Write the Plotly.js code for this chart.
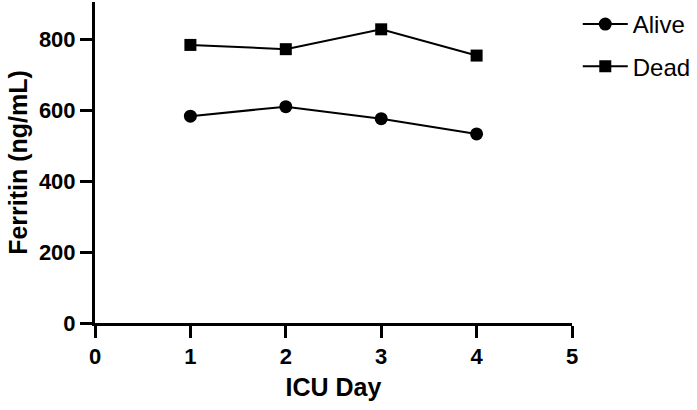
<!DOCTYPE html>
<html>
<head>
<meta charset="utf-8">
<script src="https://cdn.plot.ly/plotly-3.0.1.min.js"></script>
<style>
  body { margin: 0; background: #fff; }
  #graph1 { width: 697px; height: 410px; }
</style>
</head>
<body>
<div id="graph1"></div>
<script>
// ICU day on x, ferritin on y
var icuDays = [1, 2, 3, 4];
var aliveFerritin = [583, 610, 576, 533];
var deadFerritin = [784, 772, 828, 754];
var seriesNames = ['Alive', 'Dead'];
var xTicks = [0, 1, 2, 3, 4, 5];
var yTicks = [0, 200, 400, 600, 800];

function makeTrace(y, name, symbol) {
    return {
        x: icuDays,
        y: y,
        name: name,
        legendgroup: name,
        type: 'scatter',
        mode: 'lines+markers',
        line: { color: '#000', width: 2 },
        marker: { color: '#000', symbol: symbol, size: symbol === 'square' ? 12 : 13 },
        cliponaxis: false
    };
}

var traces = [
    makeTrace(aliveFerritin, seriesNames[0], 'circle'),
    makeTrace(deadFerritin, seriesNames[1], 'square')
];

var tickFont = { family: 'Liberation Sans, Arial, sans-serif', size: 22, color: '#000', weight: 'bold' };
var titleFont = { family: 'Liberation Sans, Arial, sans-serif', size: 25, color: '#000', weight: 'bold' };

Plotly.newPlot('graph1', traces, {
    width: 697,
    height: 410,
    paper_bgcolor: '#fff',
    plot_bgcolor: '#fff',
    showlegend: true,
    margin: { l: 95, r: 124, t: 2, b: 87, pad: 0 },
    xaxis: {
        range: [0, 5],
        tickvals: xTicks,
        ticktext: xTicks.map(String),
        showgrid: false,
        zeroline: false,
        showline: true,
        linecolor: '#000',
        linewidth: 3,
        ticks: 'outside',
        ticklen: 12,
        tickwidth: 3,
        tickcolor: '#000',
        tickfont: tickFont,
        title: { text: 'ICU Day', font: titleFont, standoff: 11 }
    },
    yaxis: {
        range: [0, 905],
        tickvals: yTicks,
        ticktext: yTicks.map(String),
        showgrid: false,
        zeroline: false,
        showline: true,
        linecolor: '#000',
        linewidth: 3,
        ticks: 'outside',
        ticklen: 12,
        tickwidth: 3,
        tickcolor: '#000',
        tickfont: tickFont,
        title: { text: 'Ferritin (ng/mL)', font: titleFont, standoff: 5 }
    },
    legend: {
        x: 1.01,
        xanchor: 'left',
        y: 1.0,
        yanchor: 'top',
        traceorder: 'grouped',
        tracegroupgap: 8,
        itemwidth: 45,
        font: { family: 'Liberation Sans, Arial, sans-serif', size: 24, color: '#000' },
        bgcolor: 'rgba(0,0,0,0)'
    }
}, { displayModeBar: false, staticPlot: true });
</script>
</body>
</html>
